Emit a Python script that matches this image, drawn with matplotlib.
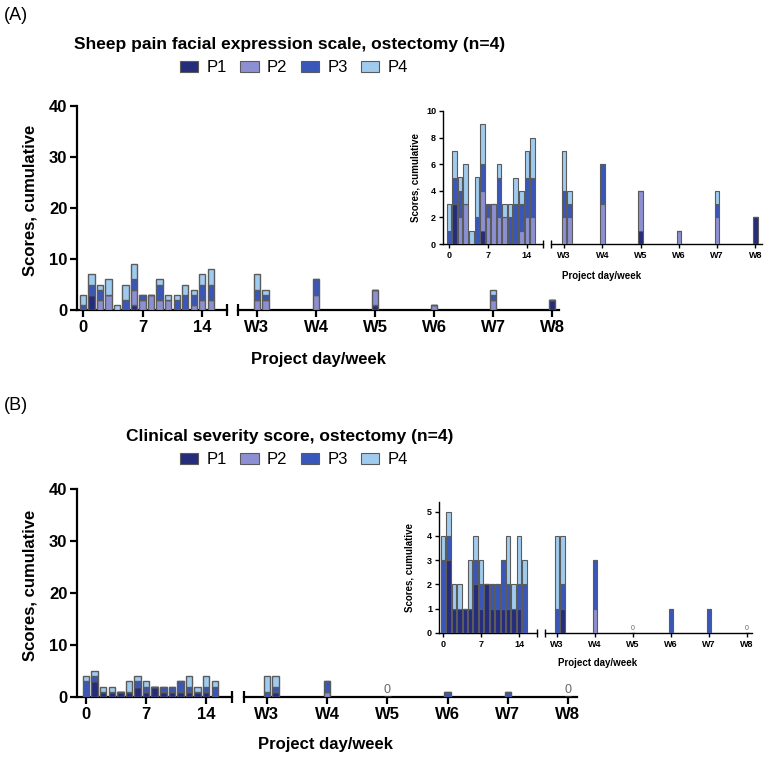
import matplotlib
matplotlib.use("Agg")
import matplotlib.pyplot as plt
from matplotlib.patches import Patch

plt.rcParams['font.family'] = ['Liberation Sans', 'DejaVu Sans']

# ---- data ----
days = list(range(16))
week_pos = [21, 22, 28, 35, 42, 49, 56]
week_ticks = [21, 28, 35, 42, 49, 56]
week_labels = ['W3', 'W4', 'W5', 'W6', 'W7', 'W8']
day_ticks = [0, 7, 14]
series = ['P1', 'P2', 'P3', 'P4']
colors = ['#262c7c', '#8c90d2', '#3957bb', '#9fcbef']

# (A) sheep pain facial expression scale
a_p1_days = [0, 3, 0, 0, 0, 0, 1, 0, 0, 0, 0, 0, 0, 0, 0, 0]
a_p2_days = [0, 0, 2, 3, 0, 0, 3, 2, 3, 2, 2, 0, 0, 1, 2, 2]
a_p3_days = [1, 2, 2, 0, 0, 2, 2, 1, 0, 3, 0, 2, 3, 2, 3, 3]
a_p4_days = [2, 2, 1, 3, 1, 3, 3, 0, 0, 1, 1, 1, 2, 1, 2, 3]
a_p1_wk = [0, 0, 0, 1, 0, 0, 2]
a_p2_wk = [2, 2, 3, 3, 1, 2, 0]
a_p3_wk = [2, 1, 3, 0, 0, 1, 0]
a_p4_wk = [3, 1, 0, 0, 0, 1, 0]

# (B) clinical severity score
b_p1_days = [0, 3, 1, 1, 1, 1, 2, 1, 2, 1, 1, 1, 1, 1, 1, 0]
b_p2_days = [0] * 16
b_p3_days = [3, 1, 0, 0, 0, 0, 1, 1, 0, 1, 1, 2, 1, 0, 1, 2]
b_p4_days = [1, 1, 1, 1, 0, 2, 1, 1, 0, 0, 0, 0, 2, 1, 2, 1]
b_p1_wk = [0, 1, 0, 0, 0, 0, 0]
b_p2_wk = [0, 0, 1, 0, 0, 0, 0]
b_p3_wk = [1, 1, 2, 0, 1, 1, 0]
b_p4_wk = [3, 2, 0, 0, 0, 0, 0]
b_zero_weeks = [35, 56]

W, H = 767, 760
fig = plt.figure(figsize=(W / 100, H / 100), dpi=100)


def add_ax(x0, y0, x1, y1):
    # pixel box, y measured from the top
    ax = fig.add_axes([x0 / W, 1 - y1 / H, (x1 - x0) / W, (y1 - y0) / H])
    ax.set_facecolor('none')
    return ax


def stack(ax, x, cols, width, lw):
    bottom = [0] * len(x)
    for vals, c in zip(cols, colors):
        ax.bar(x, vals, width, bottom=bottom, color=c, edgecolor='#5b5b5b',
               linewidth=lw, zorder=3)
        bottom = [b + v for b, v in zip(bottom, vals)]


def segment(ax, left, lw, tsize, tlen):
    for s in ['top', 'right']:
        ax.spines[s].set_visible(False)
    ax.spines['bottom'].set_linewidth(lw)
    ax.spines['left'].set_linewidth(lw)
    ax.tick_params(width=lw, length=tlen, labelsize=tsize, pad=2)
    for t in ax.get_xticklabels() + ax.get_yticklabels():
        t.set_fontweight('bold')
    if left:
        ax.plot([1], [0], marker='|', ms=tlen * 1.8, mew=lw, color='black',
                transform=ax.transAxes, clip_on=False)
    else:
        ax.spines['left'].set_visible(False)
        ax.tick_params(axis='y', left=False, labelleft=False)
        ax.plot([0], [0], marker='|', ms=tlen * 1.8, mew=lw, color='black',
                transform=ax.transAxes, clip_on=False)


def broken_chart(boxL, boxR, xlimL, xlimR, ylim, yticks, dcols, wcols, width,
                 lw, tsize, tlen, elw, zeros=None, zsize=8):
    axL = add_ax(*boxL)
    axR = add_ax(*boxR)
    stack(axL, days, dcols, width, elw)
    stack(axR, week_pos, wcols, width, elw)
    axL.set_xlim(*xlimL)
    axR.set_xlim(*xlimR)
    for ax in (axL, axR):
        ax.set_ylim(*ylim)
    axL.set_yticks(yticks)
    axL.set_xticks(day_ticks)
    axR.set_xticks(week_ticks)
    axR.set_xticklabels(week_labels)
    axR.set_yticks(yticks)
    segment(axL, True, lw, tsize, tlen)
    segment(axR, False, lw, tsize, tlen)
    if zeros:
        for z in zeros:
            axR.text(z, ylim[1] * 0.005, '0', ha='center', va='bottom',
                     fontsize=zsize, color='#666666')
    return axL, axR


def ptext(x, y, s, **kw):
    fig.text(x / W, 1 - y / H, s, **kw)


def legend_row(y):
    handles = [Patch(facecolor=c, edgecolor='#5b5b5b', linewidth=0.8, label=s)
               for s, c in zip(series, colors)]
    fig.legend(handles=handles, loc='center', ncol=4,
               bbox_to_anchor=(294 / W, 1 - y / H), frameon=False,
               fontsize=12, handlelength=1.1, handleheight=0.6,
               columnspacing=0.8, handletextpad=0.5)


# ---------- panel A ----------
ptext(4, 16, '(A)', fontsize=13, va='center')
ptext(290, 44, 'Sheep pain facial expression scale, ostectomy (n=4)',
      fontsize=12.5, fontweight='bold', ha='center', va='center')
legend_row(68)

broken_chart((77, 106, 227, 310), (238, 106, 559, 310),
             (-0.7, 16.9), (18.75, 56.8), (0, 40), [0, 10, 20, 30, 40],
             [a_p1_days, a_p2_days, a_p3_days, a_p4_days],
             [a_p1_wk, a_p2_wk, a_p3_wk, a_p4_wk],
             0.75, 1.6, 12, 5, 1.0)
ptext(30, 200, 'Scores, cumulative', fontsize=12, fontweight='bold',
      rotation=90, ha='center', va='center')
ptext(318, 360, 'Project day/week', fontsize=12, fontweight='bold',
      ha='center', va='center')

broken_chart((443, 111, 543, 244), (551, 111, 762, 244),
             (-1.08, 16.9), (18.6, 57.2), (0, 10), [0, 2, 4, 6, 8, 10],
             [a_p1_days, a_p2_days, a_p3_days, a_p4_days],
             [a_p1_wk, a_p2_wk, a_p3_wk, a_p4_wk],
             0.82, 1.0, 6.5, 3, 0.8)
ptext(415, 178, 'Scores, cumulative', fontsize=7, fontweight='bold',
      rotation=90, ha='center', va='center')
ptext(602, 276, 'Project day/week', fontsize=7, fontweight='bold',
      ha='center', va='center')

# ---------- panel B ----------
ptext(4, 406, '(B)', fontsize=13, va='center')
ptext(290, 436, 'Clinical severity score, ostectomy (n=4)',
      fontsize=12.5, fontweight='bold', ha='center', va='center')
legend_row(460)

broken_chart((77, 489, 232, 697), (244, 489, 577, 697),
             (-1.05, 17.0), (18.33, 57.05), (0, 40), [0, 10, 20, 30, 40],
             [b_p1_days, b_p2_days, b_p3_days, b_p4_days],
             [b_p1_wk, b_p2_wk, b_p3_wk, b_p4_wk],
             0.75, 1.6, 12, 5, 1.0, zeros=b_zero_weeks, zsize=9)
ptext(30, 585, 'Scores, cumulative', fontsize=12, fontweight='bold',
      rotation=90, ha='center', va='center')
ptext(325, 745, 'Project day/week', fontsize=12, fontweight='bold',
      ha='center', va='center')

broken_chart((439, 502, 537, 633), (545, 502, 752, 633),
             (-0.74, 17.3), (18.8, 56.9), (0, 5.4), [0, 1, 2, 3, 4, 5],
             [b_p1_days, b_p2_days, b_p3_days, b_p4_days],
             [b_p1_wk, b_p2_wk, b_p3_wk, b_p4_wk],
             0.82, 1.0, 6.5, 3, 0.8, zeros=b_zero_weeks, zsize=5)
ptext(410, 567, 'Scores, cumulative', fontsize=7, fontweight='bold',
      rotation=90, ha='center', va='center')
ptext(598, 663, 'Project day/week', fontsize=7, fontweight='bold',
      ha='center', va='center')

fig.savefig('out.png', dpi=100)
